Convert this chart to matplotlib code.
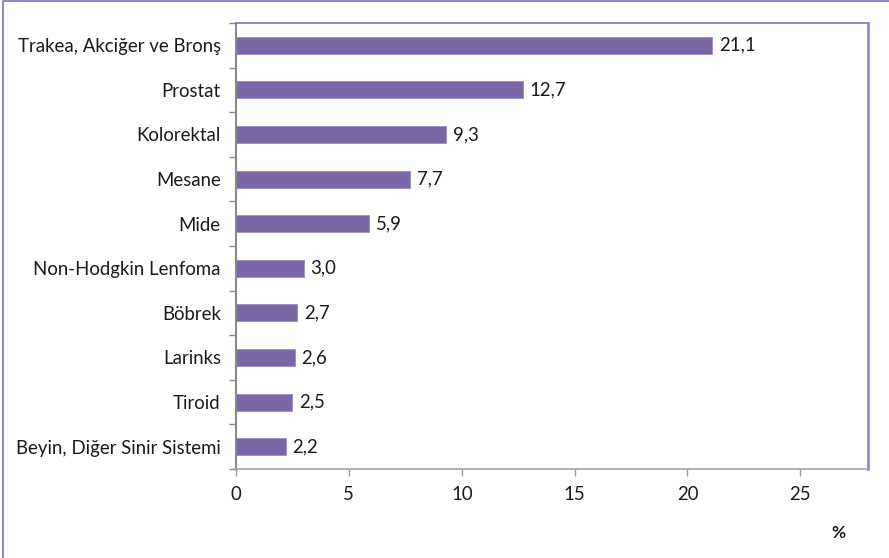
import matplotlib.pyplot as plt
from matplotlib.lines import Line2D

# Veriler (yukaridan asagiya)
kategoriler = ['Trakea, Akciğer ve Bronş', 'Prostat', 'Kolorektal', 'Mesane', 'Mide',
               'Non-Hodgkin Lenfoma', 'Böbrek', 'Larinks', 'Tiroid', 'Beyin, Diğer Sinir Sistemi']
degerler = [21.1, 12.7, 9.3, 7.7, 5.9, 3.0, 2.7, 2.6, 2.5, 2.2]
x_ticks = [0, 5, 10, 15, 20, 25]

bar_renk = '#7B66A6'
cerceve_renk = '#8C7BBF'
yazi_renk = '#1a1a1a'
fs = 13.4
plt.rcParams['font.family'] = ['Lato', 'DejaVu Sans']

fig = plt.figure(figsize=(8.89, 5.58), dpi=100)
ax = fig.add_axes([0.2655, 0.1595, 0.7109, 0.7993])

# figur cercevesi (sol ve ust)
fig.lines.append(Line2D([0.0035, 0.0035, 1.0], [0.0, 0.9975, 0.9975], transform=fig.transFigure,
                        color=cerceve_renk, linewidth=1.3))

y = list(range(len(kategoriler)))
ax.barh(y, degerler, height=0.38, color=bar_renk, edgecolor='#9C8CC4', linewidth=0.6)

for yi, v in zip(y, degerler):
    ax.text(v + 0.3, yi, f'{v:.1f}'.replace('.', ','), va='center', ha='left',
            fontsize=fs, color=yazi_renk)

ax.set_xlim(0, 28)
ax.set_ylim(len(kategoriler) - 0.5, -0.5)
ax.set_xticks(x_ticks)
ax.set_xticklabels([str(t) for t in x_ticks], fontsize=fs, color=yazi_renk)
ax.set_yticks(y)
ax.set_yticklabels(kategoriler, fontsize=fs, color=yazi_renk)
ax.set_yticks([i - 0.5 for i in range(len(kategoriler) + 1)], minor=True)
ax.tick_params(axis='y', which='major', length=0, pad=11)
ax.tick_params(axis='y', which='minor', length=5, color='#8a8a8a', width=1)
ax.tick_params(axis='x', length=5, color='#9a9a9a', width=1, pad=7)

ax.spines['left'].set_color('#8a8a8a')
ax.spines['left'].set_linewidth(1.5)
ax.spines['bottom'].set_color('#a59cc0')
ax.spines['bottom'].set_linewidth(1.2)
ax.spines['top'].set_color(cerceve_renk)
ax.spines['right'].set_color(cerceve_renk)
ax.spines['top'].set_linewidth(1.3)
ax.spines['right'].set_linewidth(1.8)

fig.text(838 / 889, 1 - 533 / 558, '%', fontsize=12.5, fontweight='bold',
         ha='center', va='center', color=yazi_renk)

fig.savefig('out.png', dpi=100)
